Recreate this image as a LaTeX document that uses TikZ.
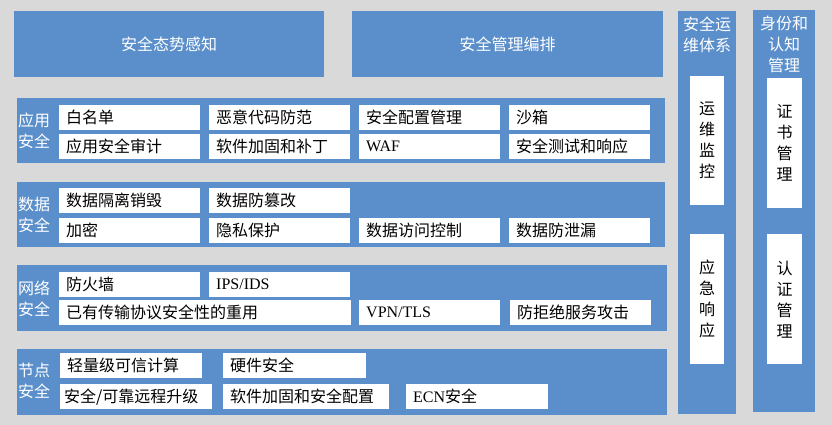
\documentclass[tikz,border=0pt]{standalone}
\usepackage{fontspec}
\setmainfont{Noto Sans CJK SC}
\newfontfamily\lat{Liberation Serif}
\usetikzlibrary{positioning}
\definecolor{Back}{HTML}{D9D9D9}
\definecolor{Blue}{HTML}{5B8FCB}

\begin{document}
\begin{tikzpicture}[x=1pt,y=-1pt,
 font=\fontsize{16}{21}\selectfont,
 blk/.style={fill=Blue,anchor=north west,inner sep=0pt,text=white},
 cell/.style={fill=white,anchor=north west,inner xsep=7pt,inner ysep=0pt,minimum height=25pt,text width=#1,align=left},
 cell/.default=127pt,
 lab/.style={text=white,align=center,inner sep=0pt},
 vcell/.style={fill=white,anchor=north west,inner sep=0pt,align=center}
]
\fill[Back] (0,0) rectangle (832,425);
\useasboundingbox (0,0) rectangle (832,425);

% top blocks
\node[blk,minimum width=310pt,minimum height=66pt] (aware) at (14,11) {安全态势感知};
\node[blk,minimum width=311pt,minimum height=66pt] (orch) at (352,11) {安全管理编排};

% application layer
\node[blk,minimum width=648pt,minimum height=65pt] (app) at (17,98) {};
\node[lab] (appl) at (34,130.5) {应用\\安全};
\node[cell] (app1) at (59,105) {白名单};
\node[cell] (app2) at (209,105) {恶意代码防范};
\node[cell] (app3) at (359,105) {安全配置管理};
\node[cell] (app4) at (509,105) {沙箱};
\node[cell] (app5) at (59,134) {应用安全审计};
\node[cell] (app6) at (209,134) {软件加固和补丁};
\node[cell] (app7) at (359,134) {{\lat WAF}};
\node[cell] (app8) at (509,134) {安全测试和响应};

% data layer
\node[blk,minimum width=648pt,minimum height=65pt] (data) at (17,182) {};
\node[lab] (datal) at (34,214.5) {数据\\安全};
\node[cell] (data1) at (59,188) {数据隔离销毁};
\node[cell] (data2) at (209,188) {数据防篡改};
\node[cell] (data3) at (59,218) {加密};
\node[cell] (data4) at (209,218) {隐私保护};
\node[cell] (data5) at (359,218) {数据访问控制};
\node[cell] (data6) at (509,218) {数据防泄漏};

% network layer
\node[blk,minimum width=650pt,minimum height=66pt] (net) at (17,265) {};
\node[lab] (netl) at (34,298.5) {网络\\安全};
\node[cell] (net1) at (59,272) {防火墙};
\node[cell] (net2) at (209,272) {{\lat IPS/IDS}};
\node[cell=278pt] (net3) at (59,300) {已有传输协议安全性的重用};
\node[cell] (net4) at (359,300) {{\lat VPN/TLS}};
\node[cell] (net5) at (510,300) {防拒绝服务攻击};

% node layer
\node[blk,minimum width=650pt,minimum height=66pt] (node) at (17,349) {};
\node[lab] (nodel) at (34,381) {节点\\安全};
\node[cell=128pt] (node1) at (60,353) {轻量级可信计算};
\node[cell=129pt] (node2) at (223,353) {硬件安全};
\node[cell=144pt,inner xsep=4pt] (node3) at (60,384) {安全/可靠远程升级};
\node[cell=152pt] (node4) at (223,384) {软件加固和安全配置};
\node[cell=128pt] (node5) at (406,384) {{\lat ECN}安全};

% side columns
\node[blk,minimum width=58pt,minimum height=403pt] (ops) at (678,11) {};
\node[lab] (opsl) at (707,35) {安全运\\维体系};
\node[vcell,minimum width=34pt,minimum height=129pt] (mon) at (690,76) {运\\维\\监\\控};
\node[vcell,minimum width=34pt,minimum height=130pt] (resp) at (690,234) {应\\急\\响\\应};

\node[blk,minimum width=62pt,minimum height=402pt] (ident) at (753,10) {};
\node[lab] (identl) at (784,44) {身份和\\认知\\管理};
\node[vcell,minimum width=35pt,minimum height=130pt] (cert) at (767,78) {证\\书\\管\\理};
\node[vcell,minimum width=35pt,minimum height=130pt] (auth) at (767,234) {认\\证\\管\\理};
\end{tikzpicture}
\end{document}
